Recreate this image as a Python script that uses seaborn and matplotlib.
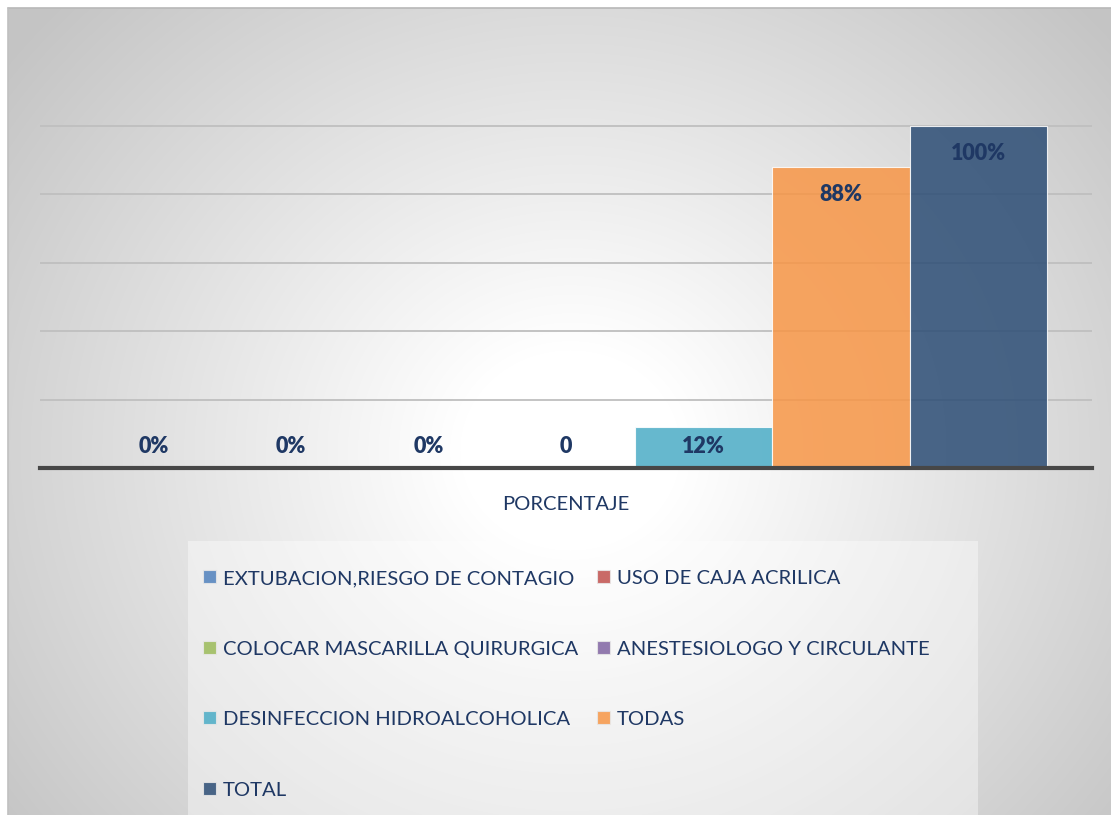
import numpy as np
import pandas as pd
import seaborn as sns
import matplotlib.pyplot as plt
from matplotlib.patches import Patch, Rectangle

# datos
series = ["EXTUBACION,RIESGO DE CONTAGIO", "USO DE CAJA ACRILICA",
          "COLOCAR MASCARILLA QUIRURGICA", "ANESTESIOLOGO Y CIRCULANTE",
          "DESINFECCION HIDROALCOHOLICA", "TODAS", "TOTAL"]
valores = [0, 0, 0, 0, 12, 88, 100]
etiquetas = ["0%", "0%", "0%", "0", "12%", "88%", "100%"]
categoria = "PORCENTAJE"
colores = ["#4F81BD", "#C0504D", "#9BBB59", "#8064A2", "#4BACC6", "#F79646", "#2C4D75"]

df = pd.DataFrame({"categoria": [categoria] * len(series), "serie": series, "valor": valores})

sns.set_theme(style="white")
plt.rcParams['font.family'] = ['Lato', 'DejaVu Sans']
azul_texto = "#1F3864"

W, H = 1111, 815
fig = plt.figure(figsize=(W / 100, H / 100), dpi=100)
fig.patch.set_facecolor("white")

# fondo con degradado radial
bg = fig.add_axes([8 / W, 0, 1 - 8 / W, 1 - 8 / H], zorder=0)
yy, xx = np.mgrid[8:H, 8:W]
d = np.hypot(xx - 570, (yy - 450) * 1.1)
t = np.clip((d - 110) / 600, 0, 1)
g = 1 - 0.23 * t
bg.imshow(np.dstack([g, g, g]), aspect="auto", interpolation="bilinear")
bg.set_axis_off()
fig.add_artist(plt.Line2D([8 / W, 1], [1 - 8 / H] * 2, color="#b8b8b8", lw=1.2))
fig.add_artist(plt.Line2D([8 / W] * 2, [0, 1 - 8 / H], color="#c0c0c0", lw=1.2))

# caja de la leyenda
fig.add_artist(Rectangle((188 / W, 0), (978 - 188) / W, (815 - 541) / H,
                         transform=fig.transFigure, facecolor="white", alpha=0.4,
                         edgecolor="none", zorder=1))

ax = fig.add_axes([40 / W, (H - 468) / H, (1092 - 40) / W, (468 - 57.6) / H], zorder=2)
ax.patch.set_alpha(0)

sns.barplot(data=df, x="categoria", y="valor", hue="serie", hue_order=series,
            palette=colores, saturation=1, width=0.915, alpha=0.85,
            edgecolor="white", linewidth=0.8, legend=False, ax=ax)

ax.set_ylim(0, 120)
ax.set_xlim(-0.5, 0.5)
ax.set_yticks([20, 40, 60, 80, 100])
ax.yaxis.grid(True, color="#bfbfbf", lw=1.3)
ax.set_axisbelow(True)
ax.tick_params(axis="y", left=False, labelleft=False)
ax.tick_params(axis="x", bottom=False, labelsize=14.5, labelcolor=azul_texto, pad=14)
ax.set_xlabel("")
ax.set_ylabel("")
for s in ["top", "left", "right"]:
    ax.spines[s].set_visible(False)
ax.spines["bottom"].set_color("#474747")
ax.spines["bottom"].set_linewidth(3)

# etiquetas de datos
for cont, v, txt in zip(ax.containers, valores, etiquetas):
    barra = cont.patches[0]
    xc = barra.get_x() + barra.get_width() / 2
    ax.text(xc, max(v - 7.9, 6.4), txt, ha="center", va="center",
            fontsize=15.5, fontweight="heavy", color=azul_texto, zorder=5)

# leyenda en dos columnas (orden por filas)
orden = [0, 2, 4, 6, 1, 3, 5]
handles = [Patch(facecolor=colores[i], alpha=0.85, edgecolor="#e8e8e8", lw=0.8) for i in orden]
labels = [series[i] for i in orden]
fig.legend(handles, labels, loc="upper left", bbox_to_anchor=(203 / W, 1 - 570 / H),
           ncol=2, frameon=False, fontsize=14.6, labelcolor=azul_texto,
           handlelength=0.62, handleheight=0.62, handletextpad=0.35,
           columnspacing=0.95, labelspacing=2.64, borderpad=0, borderaxespad=0)

fig.savefig("out.png", dpi=100)
